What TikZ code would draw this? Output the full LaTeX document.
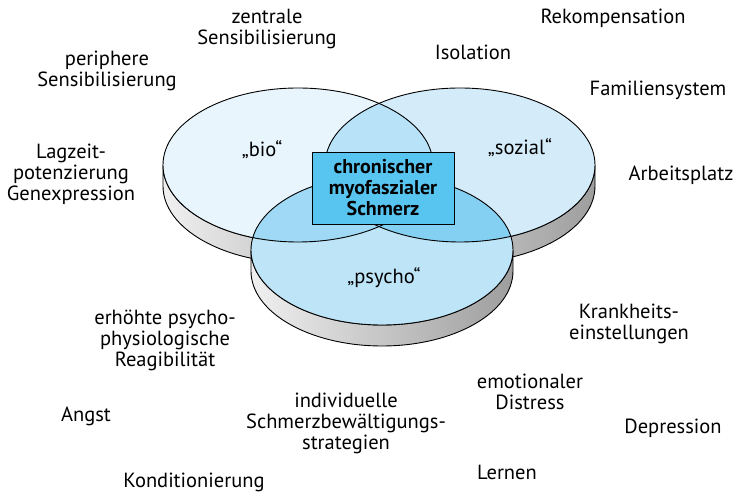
\documentclass[tikz,border=0pt]{standalone}
\usepackage{fontspec}
\setmainfont{PT Sans}
\usepackage{tikz}
\usetikzlibrary{shadings}

\definecolor{biofill}{RGB}{232,245,253}
\definecolor{sozfill}{RGB}{212,236,250}
\definecolor{psyfill}{RGB}{190,228,248}
\definecolor{bslens}{RGB}{183,226,247}
\definecolor{bplens}{RGB}{160,217,245}
\definecolor{splens}{RGB}{132,208,243}
\definecolor{kernfill}{RGB}{88,196,240}
\pgfdeclarehorizontalshading{zylinder}{100bp}{color(0bp)=(gray!55); color(16bp)=(white); color(50bp)=(gray!45); color(86bp)=(gray!90); color(100bp)=(gray!70)}

\begin{document}
\begin{tikzpicture}[x=1pt, y=1pt,
    font=\fontsize{20.5}{21}\selectfont,
    etikett/.style={align=center, inner sep=0pt},
    rand/.style={draw=black, line width=0.9pt},
    kernbox/.style={rand, fill=kernfill, align=center, inner sep=0pt,
      minimum width=142pt, minimum height=72pt,
      font=\fontsize{20}{21}\selectfont\bfseries},
  ]
  \useasboundingbox (0,0) rectangle (737,492);

  % Mittelpunkte der drei Scheiben
  \coordinate (bio) at (298,327);
  \coordinate (soz) at (460,327);
  \coordinate (psy) at (382,242);

  % Seitenflaechen (hinten nach vorn)
  \foreach \s/\rx/\ry in {bio/135/77, soz/135/77, psy/131/75}
    \shade[shading=zylinder, rand]
      ([xshift=-\rx pt]\s) -- ++(0,-21)
      arc[start angle=180, end angle=360, x radius=\rx, y radius=\ry]
      -- ++(0,21)
      arc[start angle=0, end angle=-180, x radius=\rx, y radius=\ry] -- cycle;

  % Deckflaechen
  \fill[biofill] (bio) ellipse[x radius=135, y radius=77];
  \fill[sozfill] (soz) ellipse[x radius=135, y radius=77];
  \fill[psyfill] (psy) ellipse[x radius=131, y radius=75];
  \begin{scope}
    \clip (bio) ellipse[x radius=135, y radius=77];
    \fill[bslens] (soz) ellipse[x radius=135, y radius=77];
    \fill[bplens] (psy) ellipse[x radius=131, y radius=75];
  \end{scope}
  \begin{scope}
    \clip (soz) ellipse[x radius=135, y radius=77];
    \fill[splens] (psy) ellipse[x radius=131, y radius=75];
  \end{scope}
  \draw[rand] (bio) ellipse[x radius=135, y radius=77];
  \draw[rand] (soz) ellipse[x radius=135, y radius=77];
  \draw[rand] (psy) ellipse[x radius=131, y radius=75];

  \node[etikett] (lbio) at (262,342) {„bio“};
  \node[etikett] (lsoz) at (520,344) {„sozial“};
  \node[etikett] (lpsy) at (384,214) {„psycho“};
  \node[kernbox] (kern) at (383,304) {chronischer\\myofaszialer\\Schmerz};

  % Begriffe rundherum
  \node[etikett] (zentral)   at (267,463) {zentrale\\Sensibilisierung};
  \node[etikett] (peripher)  at (107,421) {periphere\\Sensibilisierung};
  \node[etikett] (lagzeit)   at (71,318)  {Lagzeit-\\potenzierung\\Genexpression};
  \node[etikett] (rekomp)    at (613,474) {Rekompensation};
  \node[etikett] (isolation) at (473,440) {Isolation};
  \node[etikett] (familie)   at (658,402) {Familiensystem};
  \node[etikett] (arbeit)    at (681,317) {Arbeitsplatz};
  \node[etikett] (krankheit) at (629,168) {Krankheits-\\einstellungen};
  \node[etikett] (erhoeht)   at (165,152) {erhöhte psycho-\\physiologische\\Reagibilität};
  \node[etikett] (angst)     at (86,76)   {Angst};
  \node[etikett] (bewaelt)   at (346,69)  {individuelle\\Schmerzbewältigungs-\\strategien};
  \node[etikett] (emotion)   at (530,100) {emotionaler\\Distress};
  \node[etikett] (depress)   at (673,64)  {Depression};
  \node[etikett] (lernen)    at (507,20)  {Lernen};
  \node[etikett] (kondit)    at (194,10)  {Konditionierung};
\end{tikzpicture}
\end{document}
